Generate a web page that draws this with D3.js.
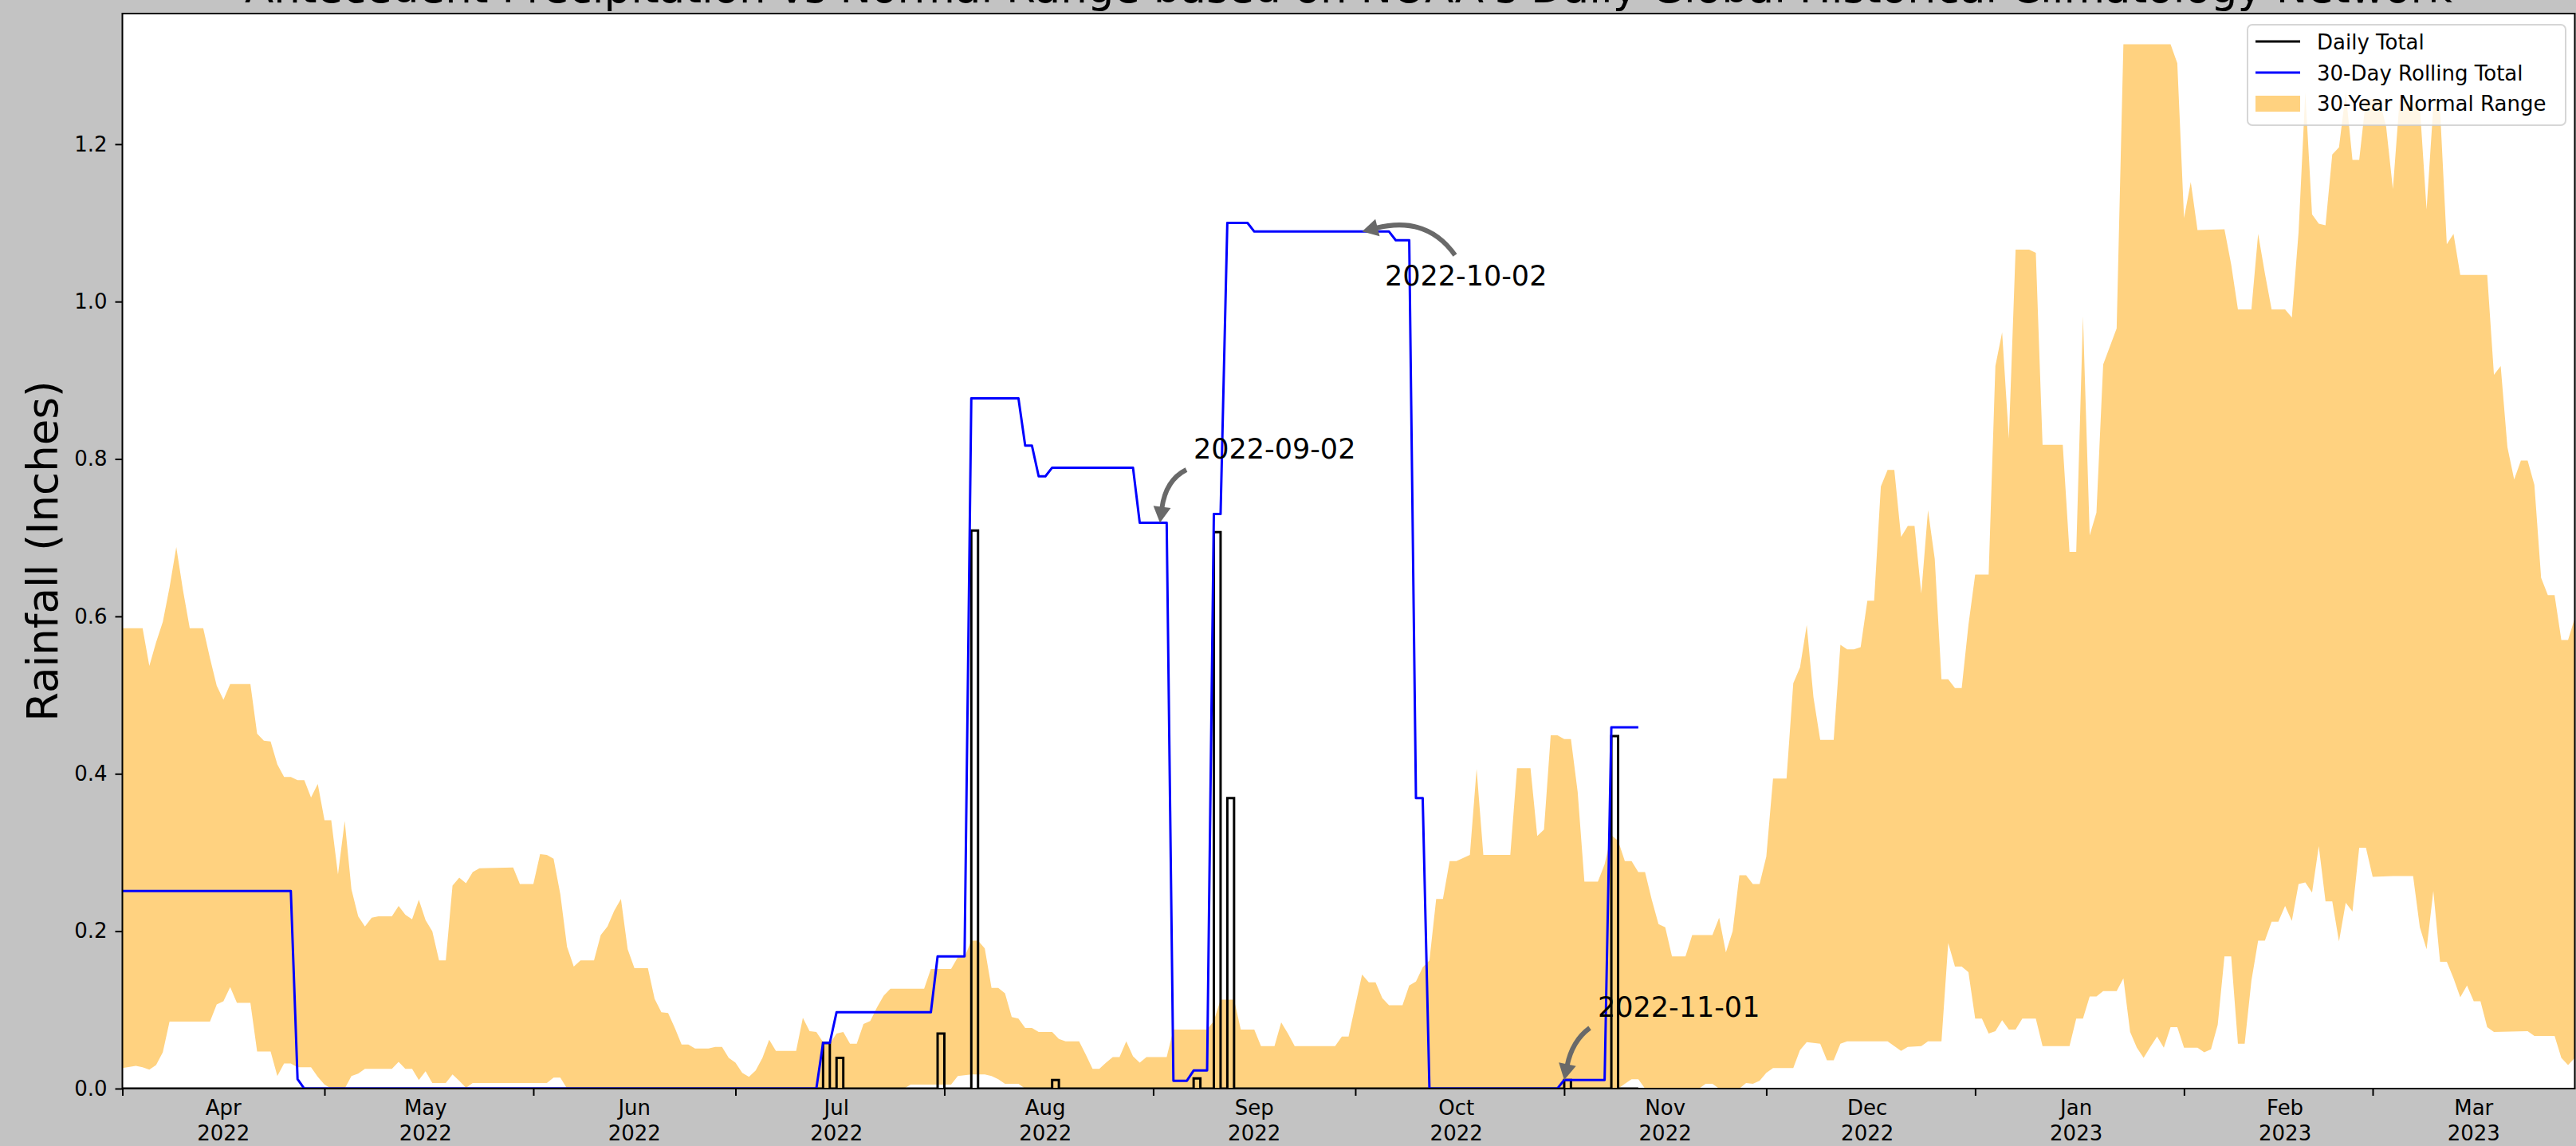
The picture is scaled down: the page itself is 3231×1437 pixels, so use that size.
<!DOCTYPE html>
<html>
<head>
<meta charset="utf-8">
<script src="https://cdn.jsdelivr.net/npm/d3@7"></script>
<style>
  html, body { margin: 0; padding: 0; background: #c3c3c3; }
  svg { display: block; }
  text { font-family: "DejaVu Sans", sans-serif; }
</style>
</head>
<body>
<svg id="chart" width="3231" height="1437"></svg>
<script>
// ---------------- DATA ----------------
const titleText = "Antecedent Precipitation vs Normal Range based on NOAA's Daily Global Historical Climatology Network";
const yLabelText = "Rainfall (Inches)";
const yTickValues = [0, 0.2, 0.4, 0.6, 0.8, 1.0, 1.2];
const monthStarts = ["2022-04-01","2022-05-01","2022-06-01","2022-07-01","2022-08-01","2022-09-01","2022-10-01","2022-11-01","2022-12-01","2023-01-01","2023-02-01","2023-03-01"];
const monthLabelDates = ["2022-04-16","2022-05-16","2022-06-16","2022-07-16","2022-08-16","2022-09-16","2022-10-16","2022-11-16","2022-12-16","2023-01-16","2023-02-16","2023-03-16"];
const monthNames = ["Apr","May","Jun","Jul","Aug","Sep","Oct","Nov","Dec","Jan","Feb","Mar"];
const monthYears = ["2022","2022","2022","2022","2022","2022","2022","2022","2022","2023","2023","2023"];
const legendLabels = ["Daily Total", "30-Day Rolling Total", "30-Year Normal Range"];

// Daily rainfall events (all other days are 0), record ends 2022-11-12
const dailyStart = "2022-04-01";
const dailyEnd = "2022-11-12";
const dailyRain = [
  ["2022-07-14",0.058],["2022-07-16",0.039],["2022-07-31",0.070],["2022-08-05",0.709],
  ["2022-08-17",0.011],["2022-09-07",0.013],["2022-09-10",0.707],["2022-09-12",0.369],
  ["2022-11-01",0.011],["2022-11-08",0.448]
];

// 30-day rolling total (vertices)
const rolling = [
  ["2022-04-01",0.251],["2022-04-26",0.251],["2022-04-27",0.012],["2022-04-28",0],
  ["2022-07-13",0],["2022-07-14",0.058],["2022-07-15",0.058],["2022-07-16",0.097],
  ["2022-07-30",0.097],["2022-07-31",0.168],["2022-08-04",0.168],["2022-08-05",0.877],
  ["2022-08-12",0.877],["2022-08-13",0.817],["2022-08-14",0.817],["2022-08-15",0.778],
  ["2022-08-16",0.778],["2022-08-17",0.789],["2022-08-29",0.789],["2022-08-30",0.719],
  ["2022-09-03",0.719],["2022-09-04",0.010],["2022-09-06",0.010],["2022-09-07",0.023],
  ["2022-09-09",0.023],["2022-09-10",0.730],["2022-09-11",0.730],["2022-09-12",1.100],
  ["2022-09-15",1.100],["2022-09-16",1.089],["2022-10-06",1.089],["2022-10-07",1.078],
  ["2022-10-09",1.078],["2022-10-10",0.369],["2022-10-11",0.369],["2022-10-12",0],
  ["2022-10-31",0],["2022-11-01",0.011],["2022-11-07",0.011],["2022-11-08",0.459],
  ["2022-11-12",0.459]
];

// 30-year normal range: upper bound
const normalHigh = [
  ["2022-04-01",0.585],["2022-04-04",0.585],["2022-04-05",0.537],["2022-04-06",0.567],["2022-04-07",0.593],
  ["2022-04-08",0.637],["2022-04-09",0.688],["2022-04-10",0.633],["2022-04-11",0.585],["2022-04-13",0.585],
  ["2022-04-14",0.547],["2022-04-15",0.512],["2022-04-16",0.494],["2022-04-17",0.514],["2022-04-20",0.514],
  ["2022-04-21",0.451],["2022-04-22",0.442],["2022-04-23",0.441],["2022-04-24",0.412],["2022-04-25",0.396],
  ["2022-04-26",0.396],["2022-04-27",0.392],["2022-04-28",0.392],["2022-04-29",0.370],["2022-04-30",0.387],
  ["2022-05-01",0.341],["2022-05-02",0.341],["2022-05-03",0.272],["2022-05-04",0.340],["2022-05-05",0.253],
  ["2022-05-06",0.219],["2022-05-07",0.206],["2022-05-08",0.217],["2022-05-09",0.219],["2022-05-11",0.219],
  ["2022-05-12",0.232],["2022-05-13",0.221],["2022-05-14",0.215],["2022-05-15",0.240],["2022-05-16",0.214],
  ["2022-05-17",0.200],["2022-05-18",0.163],["2022-05-19",0.163],["2022-05-20",0.258],["2022-05-21",0.268],
  ["2022-05-22",0.261],["2022-05-23",0.275],["2022-05-24",0.280],["2022-05-29",0.281],["2022-05-30",0.260],
  ["2022-06-01",0.260],["2022-06-02",0.298],["2022-06-03",0.297],["2022-06-04",0.292],["2022-06-05",0.247],
  ["2022-06-06",0.180],["2022-06-07",0.155],["2022-06-08",0.163],["2022-06-10",0.163],["2022-06-11",0.195],
  ["2022-06-12",0.206],["2022-06-13",0.226],["2022-06-14",0.241],["2022-06-15",0.177],["2022-06-16",0.153],
  ["2022-06-18",0.153],["2022-06-19",0.114],["2022-06-20",0.097],["2022-06-21",0.096],["2022-06-22",0.077],
  ["2022-06-23",0.056],["2022-06-24",0.056],["2022-06-25",0.051],["2022-06-27",0.051],["2022-06-28",0.053],
  ["2022-06-29",0.053],["2022-06-30",0.039],["2022-07-01",0.033],["2022-07-02",0.020],["2022-07-03",0.015],
  ["2022-07-04",0.023],["2022-07-05",0.039],["2022-07-06",0.062],["2022-07-07",0.048],["2022-07-10",0.048],
  ["2022-07-11",0.090],["2022-07-12",0.073],["2022-07-13",0.072],["2022-07-14",0.059],["2022-07-15",0.057],
  ["2022-07-16",0.070],["2022-07-17",0.072],["2022-07-18",0.057],["2022-07-19",0.057],["2022-07-20",0.082],
  ["2022-07-21",0.086],["2022-07-22",0.103],["2022-07-23",0.118],["2022-07-24",0.127],["2022-07-29",0.127],
  ["2022-07-30",0.152],["2022-08-02",0.152],["2022-08-03",0.167],["2022-08-04",0.167],["2022-08-05",0.188],
  ["2022-08-06",0.188],["2022-08-07",0.178],["2022-08-08",0.128],["2022-08-09",0.128],["2022-08-10",0.121],
  ["2022-08-11",0.091],["2022-08-12",0.089],["2022-08-13",0.077],["2022-08-14",0.077],["2022-08-15",0.072],
  ["2022-08-17",0.072],["2022-08-18",0.063],["2022-08-19",0.060],["2022-08-21",0.060],["2022-08-22",0.043],
  ["2022-08-23",0.025],["2022-08-24",0.025],["2022-08-25",0.033],["2022-08-26",0.040],["2022-08-27",0.040],
  ["2022-08-28",0.060],["2022-08-29",0.041],["2022-08-30",0.033],["2022-08-31",0.040],["2022-09-03",0.040],
  ["2022-09-04",0.075],["2022-09-09",0.075],["2022-09-10",0.086],["2022-09-11",0.113],["2022-09-13",0.113],
  ["2022-09-14",0.075],["2022-09-16",0.075],["2022-09-17",0.054],["2022-09-19",0.054],["2022-09-20",0.084],
  ["2022-09-21",0.070],["2022-09-22",0.054],["2022-09-28",0.054],["2022-09-29",0.066],["2022-09-30",0.066],
  ["2022-10-01",0.106],["2022-10-02",0.145],["2022-10-03",0.135],["2022-10-04",0.135],["2022-10-05",0.115],
  ["2022-10-06",0.106],["2022-10-08",0.106],["2022-10-09",0.131],["2022-10-10",0.136],["2022-10-11",0.154],
  ["2022-10-12",0.163],["2022-10-13",0.241],["2022-10-14",0.241],["2022-10-15",0.289],["2022-10-16",0.289],
  ["2022-10-18",0.297],["2022-10-19",0.406],["2022-10-20",0.297],["2022-10-24",0.297],["2022-10-25",0.407],
  ["2022-10-27",0.407],["2022-10-28",0.321],["2022-10-29",0.329],["2022-10-30",0.449],["2022-10-31",0.449],
  ["2022-11-01",0.444],["2022-11-02",0.444],["2022-11-03",0.377],["2022-11-04",0.263],["2022-11-06",0.263],
  ["2022-11-07",0.285],["2022-11-08",0.322],["2022-11-09",0.315],["2022-11-10",0.289],["2022-11-11",0.289],
  ["2022-11-12",0.275],["2022-11-13",0.275],["2022-11-14",0.240],["2022-11-15",0.209],["2022-11-16",0.205],
  ["2022-11-17",0.168],["2022-11-19",0.168],["2022-11-20",0.195],["2022-11-23",0.195],["2022-11-24",0.217],
  ["2022-11-25",0.173],["2022-11-26",0.200],["2022-11-27",0.271],["2022-11-28",0.271],["2022-11-29",0.260],
  ["2022-11-30",0.260],["2022-12-01",0.295],["2022-12-02",0.394],["2022-12-04",0.394],["2022-12-05",0.515],
  ["2022-12-06",0.535],["2022-12-07",0.589],["2022-12-08",0.497],["2022-12-09",0.443],["2022-12-11",0.443],
  ["2022-12-12",0.564],["2022-12-13",0.558],["2022-12-14",0.558],["2022-12-15",0.561],["2022-12-16",0.620],
  ["2022-12-17",0.620],["2022-12-18",0.765],["2022-12-19",0.786],["2022-12-20",0.786],["2022-12-21",0.701],
  ["2022-12-22",0.715],["2022-12-23",0.715],["2022-12-24",0.629],["2022-12-25",0.735],["2022-12-26",0.673],
  ["2022-12-27",0.520],["2022-12-28",0.520],["2022-12-29",0.509],["2022-12-30",0.509],["2022-12-31",0.589],
  ["2023-01-01",0.653],["2023-01-03",0.653],["2023-01-04",0.918],["2023-01-05",0.961],["2023-01-06",0.826],
  ["2023-01-07",1.066],["2023-01-09",1.066],["2023-01-10",1.062],["2023-01-11",0.818],["2023-01-14",0.818],
  ["2023-01-15",0.682],["2023-01-16",0.682],["2023-01-17",0.981],["2023-01-18",0.703],["2023-01-19",0.732],
  ["2023-01-20",0.920],["2023-01-22",0.966],["2023-01-23",1.327],["2023-01-30",1.327],["2023-01-31",1.303],
  ["2023-02-01",1.106],["2023-02-02",1.152],["2023-02-03",1.091],["2023-02-07",1.092],["2023-02-08",1.047],
  ["2023-02-09",0.990],["2023-02-11",0.990],["2023-02-12",1.086],["2023-02-13",1.036],["2023-02-14",0.990],
  ["2023-02-16",0.990],["2023-02-17",0.980],["2023-02-18",1.088],["2023-02-19",1.266],["2023-02-20",1.111],
  ["2023-02-21",1.099],["2023-02-22",1.097],["2023-02-23",1.187],["2023-02-24",1.196],["2023-02-25",1.266],
  ["2023-02-26",1.180],["2023-02-27",1.180],["2023-02-28",1.257],["2023-03-02",1.257],["2023-03-03",1.222],
  ["2023-03-04",1.143],["2023-03-05",1.257],["2023-03-07",1.253],["2023-03-08",1.248],["2023-03-09",1.117],
  ["2023-03-10",1.248],["2023-03-11",1.244],["2023-03-12",1.073],["2023-03-13",1.086],["2023-03-14",1.034],
  ["2023-03-18",1.034],["2023-03-19",0.907],["2023-03-20",0.918],["2023-03-21",0.815],["2023-03-22",0.774],
  ["2023-03-23",0.798],["2023-03-24",0.798],["2023-03-25",0.767],["2023-03-26",0.649],["2023-03-27",0.627],
  ["2023-03-28",0.627],["2023-03-29",0.570],["2023-03-30",0.570],["2023-03-31",0.598]
];

// 30-year normal range: lower bound
const normalLow = [
  ["2022-04-01",0.026],["2022-04-03",0.029],["2022-04-04",0.027],["2022-04-05",0.024],["2022-04-06",0.030],
  ["2022-04-07",0.046],["2022-04-08",0.085],["2022-04-14",0.085],["2022-04-15",0.107],["2022-04-16",0.111],
  ["2022-04-17",0.129],["2022-04-18",0.109],["2022-04-20",0.109],["2022-04-21",0.047],["2022-04-23",0.047],
  ["2022-04-24",0.016],["2022-04-25",0.032],["2022-04-26",0.032],["2022-04-27",0.027],["2022-04-29",0.027],
  ["2022-04-30",0.015],["2022-05-01",0.005],["2022-05-02",0],["2022-05-04",0],["2022-05-05",0.016],
  ["2022-05-06",0.019],["2022-05-07",0.025],["2022-05-11",0.025],["2022-05-12",0.034],["2022-05-13",0.025],
  ["2022-05-14",0.025],["2022-05-15",0.011],["2022-05-16",0.022],["2022-05-17",0.007],["2022-05-19",0.007],
  ["2022-05-20",0.018],["2022-05-21",0.010],["2022-05-22",0.001],["2022-05-23",0.007],["2022-06-03",0.007],
  ["2022-06-04",0.014],["2022-06-05",0.014],["2022-06-06",0],["2022-07-26",0],["2022-07-27",0.005],
  ["2022-08-02",0.005],["2022-08-03",0.016],["2022-08-05",0.018],["2022-08-07",0.018],["2022-08-08",0.016],
  ["2022-08-09",0.012],["2022-08-10",0.006],["2022-08-12",0.006],["2022-08-13",0],["2022-11-09",0],
  ["2022-11-10",0.006],["2022-11-11",0.012],["2022-11-12",0.012],["2022-11-13",0],["2022-11-21",0],
  ["2022-11-22",0.006],["2022-11-23",0.006],["2022-11-24",0],["2022-11-27",0],["2022-11-28",0.007],
  ["2022-11-29",0.006],["2022-11-30",0.010],["2022-12-01",0.020],["2022-12-02",0.026],["2022-12-05",0.026],
  ["2022-12-06",0.049],["2022-12-07",0.059],["2022-12-09",0.057],["2022-12-10",0.036],["2022-12-11",0.036],
  ["2022-12-12",0.057],["2022-12-13",0.060],["2022-12-19",0.060],["2022-12-20",0.054],["2022-12-21",0.048],
  ["2022-12-22",0.053],["2022-12-24",0.054],["2022-12-25",0.060],["2022-12-27",0.060],["2022-12-28",0.185],
  ["2022-12-29",0.155],["2022-12-30",0.155],["2022-12-31",0.148],["2023-01-01",0.089],["2023-01-02",0.089],
  ["2023-01-03",0.070],["2023-01-04",0.073],["2023-01-05",0.087],["2023-01-06",0.075],["2023-01-07",0.075],
  ["2023-01-08",0.089],["2023-01-10",0.089],["2023-01-11",0.054],["2023-01-15",0.054],["2023-01-16",0.089],
  ["2023-01-17",0.089],["2023-01-18",0.117],["2023-01-19",0.117],["2023-01-20",0.124],["2023-01-22",0.124],
  ["2023-01-23",0.140],["2023-01-24",0.072],["2023-01-25",0.052],["2023-01-26",0.039],["2023-01-27",0.053],
  ["2023-01-28",0.066],["2023-01-29",0.052],["2023-01-30",0.078],["2023-01-31",0.078],["2023-02-01",0.052],
  ["2023-02-03",0.052],["2023-02-04",0.046],["2023-02-05",0.050],["2023-02-06",0.081],["2023-02-07",0.168],
  ["2023-02-08",0.168],["2023-02-09",0.057],["2023-02-10",0.057],["2023-02-11",0.137],["2023-02-12",0.188],
  ["2023-02-13",0.188],["2023-02-14",0.212],["2023-02-15",0.212],["2023-02-16",0.232],["2023-02-17",0.213],
  ["2023-02-18",0.260],["2023-02-19",0.262],["2023-02-20",0.249],["2023-02-21",0.308],["2023-02-22",0.238],
  ["2023-02-23",0.238],["2023-02-24",0.187],["2023-02-25",0.236],["2023-02-26",0.225],["2023-02-27",0.306],
  ["2023-02-28",0.306],["2023-03-01",0.269],["2023-03-04",0.270],["2023-03-07",0.270],["2023-03-08",0.205],
  ["2023-03-09",0.177],["2023-03-10",0.251],["2023-03-11",0.161],["2023-03-12",0.161],["2023-03-13",0.140],
  ["2023-03-14",0.116],["2023-03-15",0.131],["2023-03-16",0.111],["2023-03-17",0.111],["2023-03-18",0.078],
  ["2023-03-19",0.072],["2023-03-24",0.073],["2023-03-25",0.067],["2023-03-28",0.067],["2023-03-29",0.039],
  ["2023-03-30",0.030],["2023-03-31",0.039]
];

// Annotations: label date and the rolling-total value the arrow points to
const annotationDates = ["2022-09-02", "2022-10-02", "2022-11-01"];
const annotationValues = [0.719, 1.089, 0.011];

// ---------------- DRAWING ----------------
const W = 3231, H = 1437;
const M = { left: 153.5, right: 3229.5, top: 17, bottom: 1365 };
const parse = d3.timeParse("%Y-%m-%d");
const svg = d3.select("#chart");

svg.append("rect").attr("width", W).attr("height", H).attr("fill", "#c3c3c3");

const x = d3.scaleTime()
  .domain([parse("2022-04-01"), parse("2023-03-31")])
  .range([M.left, M.right]);
const y = d3.scaleLinear().domain([0, 1.366]).range([M.bottom, M.top]);

// plot background
svg.append("rect").attr("x", M.left).attr("y", M.top)
  .attr("width", M.right - M.left).attr("height", M.bottom - M.top).attr("fill", "#ffffff");

svg.append("defs").append("clipPath").attr("id", "plotclip")
  .append("rect").attr("x", M.left).attr("y", M.top)
  .attr("width", M.right - M.left).attr("height", M.bottom - M.top);

const plot = svg.append("g").attr("clip-path", "url(#plotclip)");

// normal range polygon
const hiPts = normalHigh.map(d => [x(parse(d[0])), y(d[1])]);
const loPts = normalLow.map(d => [x(parse(d[0])), y(d[1])]).reverse();
plot.append("path")
  .attr("d", d3.line()(hiPts.concat(loPts)) + "Z")
  .attr("fill", "#ffd280").attr("stroke", "none");

// daily total step line
const rainMap = new Map(dailyRain.map(d => [d[0], d[1]]));
const fmt = d3.timeFormat("%Y-%m-%d");
const days = d3.timeDay.range(parse(dailyStart), d3.timeDay.offset(parse(dailyEnd), 1));
const dailySeries = days.map(dt => [dt, rainMap.has(fmt(dt)) ? rainMap.get(fmt(dt)) : 0]);
plot.append("path")
  .attr("d", d3.line().x(d => x(d[0])).y(d => y(d[1])).curve(d3.curveStepAfter)(dailySeries))
  .attr("fill", "none").attr("stroke", "#000000").attr("stroke-width", 3)
  .attr("stroke-linejoin", "miter");

// rolling total line
plot.append("path")
  .attr("d", d3.line().x(d => x(parse(d[0]))).y(d => y(d[1]))(rolling))
  .attr("fill", "none").attr("stroke", "#0000ff").attr("stroke-width", 3)
  .attr("stroke-linejoin", "round");

// ---- axes ----
const yAxis = d3.axisLeft(y).tickValues(yTickValues).tickFormat(d3.format(".1f"))
  .tickSize(9).tickPadding(10);
const gy = svg.append("g").attr("transform", `translate(${M.left},0)`).call(yAxis);
gy.select(".domain").remove();
gy.selectAll(".tick line").attr("stroke", "#000").attr("stroke-width", 2);
gy.selectAll(".tick text").attr("font-size", 26).attr("font-family", "DejaVu Sans").attr("fill", "#000");

const xAxis = d3.axisBottom(x).tickValues(monthStarts.map(parse)).tickFormat("").tickSize(9);
const gx = svg.append("g").attr("transform", `translate(0,${M.bottom})`).call(xAxis);
gx.select(".domain").remove();
gx.selectAll(".tick line").attr("stroke", "#000").attr("stroke-width", 2);

const lab = svg.append("g");
monthLabelDates.forEach((d, i) => {
  const t = lab.append("text").attr("x", x(parse(d))).attr("text-anchor", "middle")
    .attr("font-size", 26).attr("fill", "#000");
  t.append("tspan").attr("x", x(parse(d))).attr("y", 1398).text(monthNames[i]);
  t.append("tspan").attr("x", x(parse(d))).attr("y", 1430).text(monthYears[i]);
});

// spines
svg.append("rect").attr("x", M.left).attr("y", M.top)
  .attr("width", M.right - M.left).attr("height", M.bottom - M.top)
  .attr("fill", "none").attr("stroke", "#000").attr("stroke-width", 2);

// y label
svg.append("text").attr("transform", `translate(72,${(M.top + M.bottom) / 2}) rotate(-90)`)
  .attr("text-anchor", "middle").attr("font-size", 53).attr("fill", "#000").text(yLabelText);

// title (partly cut off at top, as in the reference)
svg.append("text").attr("x", (M.left + M.right) / 2).attr("y", 3)
  .attr("text-anchor", "middle").attr("font-size", 53).attr("fill", "#000").text(titleText);

// ---- annotations ----
const annText = [
  { tx: 1497, ty: 575, sx: 1488, sy: 589, cx: 1462, cy: 602 },
  { tx: 1737, ty: 358, sx: 1825, sy: 320, cx: 1790, cy: 270 },
  { tx: 2004, ty: 1275, sx: 1994, sy: 1289, cx: 1972, cy: 1305 }
];
const annG = svg.append("g");
annotationDates.forEach((d, i) => {
  const a = annText[i];
  const ex = x(parse(d)), ey = y(annotationValues[i]);
  annG.append("text").attr("x", a.tx).attr("y", a.ty).attr("font-size", 35).attr("fill", "#000").text(d);
  const dx = ex - a.cx, dy = ey - a.cy, L = Math.hypot(dx, dy);
  const ux = dx / L, uy = dy / L;
  const headLen = 20, headW = 11;
  const bx = ex - ux * headLen, by = ey - uy * headLen;
  const p = d3.path();
  p.moveTo(a.sx, a.sy);
  p.quadraticCurveTo(a.cx, a.cy, bx + ux * 2, by + uy * 2);
  annG.append("path").attr("d", p.toString()).attr("fill", "none")
    .attr("stroke", "#696969").attr("stroke-width", 6).attr("stroke-linecap", "butt");
  const h = d3.path();
  h.moveTo(ex, ey);
  h.lineTo(bx - uy * headW, by + ux * headW);
  h.lineTo(bx + uy * headW, by - ux * headW);
  h.closePath();
  annG.append("path").attr("d", h.toString()).attr("fill", "#696969");
});

// ---- legend ----
const lg = svg.append("g");
lg.append("rect").attr("x", 2819).attr("y", 31).attr("width", 399).attr("height", 126)
  .attr("rx", 6).attr("fill", "#ffffff").attr("fill-opacity", 0.8)
  .attr("stroke", "#cccccc").attr("stroke-opacity", 0.8).attr("stroke-width", 2);
lg.append("line").attr("x1", 2829).attr("x2", 2885).attr("y1", 52).attr("y2", 52)
  .attr("stroke", "#000").attr("stroke-width", 3);
lg.append("line").attr("x1", 2829).attr("x2", 2885).attr("y1", 91).attr("y2", 91)
  .attr("stroke", "#0000ff").attr("stroke-width", 3);
lg.append("rect").attr("x", 2829).attr("y", 120).attr("width", 56).attr("height", 20)
  .attr("fill", "#ffd280");
[62, 101, 139].forEach((yy, i) => {
  lg.append("text").attr("x", 2906).attr("y", yy).attr("font-size", 26).attr("fill", "#000")
    .text(legendLabels[i]);
});
</script>
</body>
</html>
